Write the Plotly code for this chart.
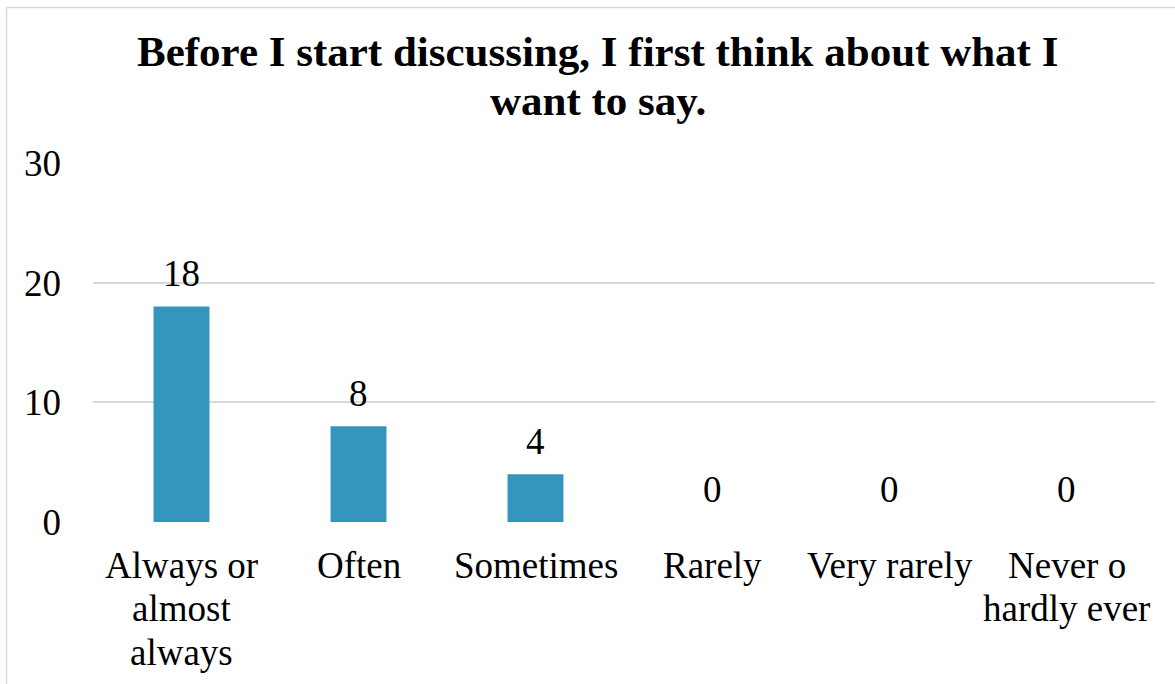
import plotly.graph_objects as go

# Survey responses for one statement
categories = ["Always or almost always", "Often", "Sometimes", "Rarely",
              "Very rarely", "Never o hardly ever"]
category_lines = [["Always or", "almost", "always"], ["Often"], ["Sometimes"],
                  ["Rarely"], ["Very rarely"], ["Never o", "hardly ever"]]
counts = [18, 8, 4, 0, 0, 0]
y_ticks = [0, 10, 20, 30]
title_lines = ["Before I start discussing, I first think about what I", "want to say."]

W, H = 1175, 684
L, R, T, B = 93, 20, 162.5, 161.5
pw, ph = W - L - R, H - T - B

FONT = "Liberation Serif, Times New Roman, serif"
BAR = "#3596BD"
GRID = "#D9D9D9"
FS = 37


def px_x(x):
    """Horizontal page pixel -> paper coordinate."""
    return (x - L) / pw


def px_y(y):
    """Vertical page pixel (from top) -> paper coordinate."""
    return 1 + (T - y) / ph


fig = go.Figure(
    go.Bar(
        x=categories,
        y=counts,
        width=0.316,
        marker=dict(color=BAR, line=dict(width=0)),
        hoverinfo="x+y",
    )
)

# Value labels above each bar
for cat, v in zip(categories, counts):
    fig.add_annotation(
        x=cat, y=v, xref="x", yref="y", text=str(v), showarrow=False,
        xanchor="center", yanchor="middle", yshift=33,
        font=dict(family=FONT, size=FS, color="#000000"),
    )

# Category labels, wrapped onto tightly spaced lines
for cat, lines in zip(categories, category_lines):
    for i, line in enumerate(lines):
        fig.add_annotation(
            x=cat, y=0, xref="x", yref="y", text=line, showarrow=False,
            xanchor="center", yanchor="middle", yshift=-(43 + 43.5 * i),
            font=dict(family=FONT, size=FS, color="#000000"),
        )

# Two-line bold title
for i, line in enumerate(title_lines):
    fig.add_annotation(
        x=px_x(597.5), y=px_y(51 + 49 * i), xref="paper", yref="paper",
        text=f"<b>{line}</b>", showarrow=False,
        xanchor="center", yanchor="middle",
        font=dict(family=FONT, size=43, color="#000000"),
    )

# Light grey frame around the chart
fig.add_shape(
    type="rect", xref="paper", yref="paper",
    x0=px_x(6.5), x1=px_x(W + 10),
    y0=px_y(H + 10), y1=px_y(6.5),
    line=dict(color=GRID, width=1.5),
    layer="below",
)

fig.update_layout(
    width=W, height=H, autosize=False,
    margin=dict(l=L, r=R, t=T, b=B),
    paper_bgcolor="white", plot_bgcolor="white",
    showlegend=False,
    font=dict(family=FONT, size=FS, color="#000000"),
    xaxis=dict(
        showgrid=False, showline=False, zeroline=False,
        ticks="", showticklabels=False,
    ),
    yaxis=dict(
        range=[0, 30], tickvals=y_ticks,
        showgrid=True, gridcolor=GRID, gridwidth=1.5,
        zeroline=False, showline=False, ticks="",
        tickfont=dict(family=FONT, size=FS),
        ticklabelstandoff=31,
    ),
)

fig.write_html("out.html")
